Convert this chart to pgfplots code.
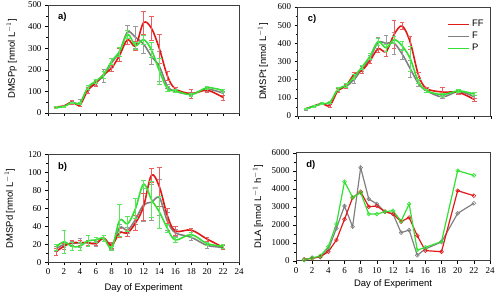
\documentclass[border=0pt]{standalone}
\usepackage{pgfplots}
\pgfplotsset{compat=1.18}
\usepackage{pgfplotstable}
\usepackage{fontspec}
\setmainfont{Liberation Serif}
\setsansfont{Liberation Sans}

\definecolor{ffred}{RGB}{225,25,25}
\definecolor{fgray}{RGB}{128,128,128}
\definecolor{pgreen}{RGB}{50,225,50}

% day  mean  sd
\pgfplotstableread{
d v e
1 28 3
2 33 4
3 50 8
4 37 8
5 105 12
6 138 12
7 178 15
8 208 15
9 268 30
10 340 20
11 310 20
12 418 52
13 392 55
14 297 67
15 172 19
16 112 8
18 90 22
20 105 10
22 72 12
}\apFF
\pgfplotstableread{
d v e
1 27 3
2 31 4
3 48 5
4 47 15
5 112 8
6 142 12
7 172 30
8 232 20
9 285 20
10 375 30
11 350 50
12 320 45
13 262 35
14 215 70
15 125 10
16 100 6
18 88 8
20 110 8
22 92 10
}\apF
\pgfplotstableread{
d v e
1 27 3
2 30 3
3 48 4
4 45 6
5 118 10
6 148 10
7 178 15
8 240 15
9 285 20
10 365 20
11 312 15
12 340 20
13 292 35
14 195 60
15 112 10
16 103 6
18 85 8
20 117 8
22 104 8
}\apP

\pgfplotstableread{
d v e
1 12 4
2 18 3
3 22 3
4 22 3
5 22 3
6 21 2
7 27 3
8 19 3
9 33 5
10 33 4
11 44 8
12 62 15
13 97 8
14 84 22
15 52 8
16 35 5
18 36 2
20 26 2
22 17 2
}\bpFF
\pgfplotstableread{
d v e
1 15 3
2 20 3
3 21 3
4 22 5
5 22 3
6 21 3
7 27 3
8 18 3
9 39 4
10 36 3
11 48 5
12 64 18
13 67 20
14 72 20
15 46 10
16 33 4
18 28 3
20 19 3
22 17 2
}\bpF
\pgfplotstableread{
d v e
1 17 3
2 23 13
3 18 4
4 18 4
5 24 6
6 25 3
7 27 3
8 16 2
9 47 18
10 43 8
11 60 11
12 87 4
13 70 20
14 56 18
15 38 4
16 25 3
18 31 3
20 21 2
22 18 2
}\bpP

\pgfplotstableread{
d v e
1 40 4
2 55 5
3 68 6
4 58 10
5 140 10
6 165 12
7 228 12
8 250 12
9 305 15
10 370 20
11 355 25
12 450 75
13 495 20
14 405 35
15 228 15
16 152 8
18 132 25
20 130 10
22 90 10
}\cpFF
\pgfplotstableread{
d v e
1 38 4
2 53 4
3 67 5
4 72 6
5 142 8
6 162 10
7 200 20
8 260 12
9 320 15
10 405 30
11 400 45
12 400 60
13 340 30
14 260 45
15 180 15
16 140 8
18 105 8
20 135 8
22 105 10
}\cpF
\pgfplotstableread{
d v e
1 40 4
2 53 4
3 68 5
4 75 6
5 148 8
6 168 10
7 215 15
8 270 12
9 330 15
10 410 20
11 375 20
12 420 20
13 385 25
14 315 70
15 190 12
16 140 8
18 118 8
20 138 8
22 120 8
}\cpP

\pgfplotstableread{
d v
1 75
2 130
3 220
4 500
5 1150
6 2300
7 3500
8 3830
9 3000
10 3040
11 2720
12 2600
13 2170
14 2400
15 1390
16 560
18 500
20 3890
22 3610
}\dpFF
\pgfplotstableread{
d v
1 30
2 170
3 200
4 620
5 1800
6 3040
7 1890
8 5170
9 3430
10 3150
11 2720
12 2600
13 1560
14 1700
15 300
16 650
18 1040
20 2630
22 3190
}\dpF
\pgfplotstableread{
d v
1 50
2 150
3 260
4 780
5 2040
6 4390
7 3520
8 3780
9 2590
10 2590
11 2720
12 2780
13 2200
14 3150
15 590
16 740
18 1060
20 5000
22 4740
}\dpP

\pgfplotsset{
  panel/.style={
    scale only axis, anchor=south west,
    xmin=0, xmax=24, xtick={0,2,...,24},
    tick align=outside, xtick pos=bottom, ytick pos=left,
    minor y tick num=1,
    major tick length=3bp, minor tick length=2bp,
    tick style={black, line width=0.4pt},
    axis line style={black!75, line width=0.5pt},
    tick label style={font=\fontsize{9}{10}\selectfont},
    /pgf/number format/assume math mode=true,
    /pgf/number format/1000 sep={},
    label style={font=\sffamily\fontsize{9.5}{11}\selectfont},
    clip=false,
  },
  toppanel/.style={panel, xticklabels={}},
  ebar/.style={
    /pgfplots/error bars/y dir=both,
    /pgfplots/error bars/y explicit,
    /pgfplots/error bars/error bar style={line width=0.5pt, #1},
    /pgfplots/error bars/error mark options={rotate=90, mark size=2.2bp, line width=0.5pt, #1}},
  sline/.style={smooth, tension=0.55, no marks, line width=1.6pt},
  dline/.style={mark=o, mark size=1.9bp, line width=1.2pt,
    mark options={fill=white, line width=0.6pt}},
  longline/.style={legend image code/.code={\draw (0bp,0bp) -- (21bp,0bp);}},
}

\newcommand{\plab}[1]{\node[anchor=west, font=\sffamily\bfseries\fontsize{9.5}{11}\selectfont]
  at (rel axis cs:0.035,0.885) {#1};}

\begin{document}
\begin{tikzpicture}
\useasboundingbox (0,0) rectangle (502bp,297bp);

% a) particulate DMSP
\begin{axis}[toppanel, at={(48bp,184bp)}, width=191bp, height=108bp,
  ymin=0, ymax=500, ytick={0,100,...,500},
  ylabel={DMSPp [nmol L$^{-1}$]},
  ylabel style={at={(axis description cs:-0.19,0.5)}, anchor=center}]
\addplot[sline, fgray, ebar=fgray!80] table[x=d, y=v, y error=e] {\apF};
\addplot[sline, ffred, ebar=ffred!70] table[x=d, y=v, y error=e] {\apFF};
\addplot[sline, pgreen, ebar=pgreen!80] table[x=d, y=v, y error=e] {\apP};
\plab{a)}
\end{axis}

% b) dissolved DMSP
\begin{axis}[panel, at={(48bp,34.5bp)}, width=191bp, height=108bp,
  ymin=0, ymax=120, ytick={0,20,...,120},
  ylabel={DMSPd [nmol L$^{-1}$]}, xlabel={Day of Experiment},
  ylabel style={at={(axis description cs:-0.2,0.5)}, anchor=center},
  xlabel style={at={(axis description cs:0.5,-0.235)}, anchor=center}]
\addplot[sline, fgray, ebar=fgray!80] table[x=d, y=v, y error=e] {\bpF};
\addplot[sline, ffred, ebar=ffred!70] table[x=d, y=v, y error=e] {\bpFF};
\addplot[sline, pgreen, ebar=pgreen!80] table[x=d, y=v, y error=e] {\bpP};
\plab{b)}
\end{axis}

% c) total DMSP
\begin{axis}[toppanel, at={(297.7bp,181bp)}, width=193bp, height=109bp,
  ymin=0, ymax=600, ytick={0,100,...,600},
  ylabel={DMSPt [nmol L$^{-1}$]},
  ylabel style={at={(axis description cs:-0.18,0.5)}, anchor=center},
  legend style={at={(rel axis cs:0.76,0.915)}, anchor=north west, draw=none, fill=none,
    font=\sffamily\fontsize{9.5}{11}\selectfont},
  legend cell align=left]
\addplot[forget plot, sline, fgray, ebar=fgray!80] table[x=d, y=v, y error=e] {\cpF};
\addplot[forget plot, sline, ffred, ebar=ffred!70] table[x=d, y=v, y error=e] {\cpFF};
\addplot[forget plot, sline, pgreen, ebar=pgreen!80] table[x=d, y=v, y error=e] {\cpP};
\addlegendimage{ffred, line width=1.6pt, longline}
\addlegendentry{FF}
\addlegendimage{fgray, line width=1.6pt, longline}
\addlegendentry{F}
\addlegendimage{pgreen, line width=1.6pt, longline}
\addlegendentry{P}
\plab{c)}
\end{axis}

% d) DMSP lyase activity
\begin{axis}[panel, at={(296bp,36.3bp)}, width=194bp, height=108bp,
  ymin=0, ymax=6000, ytick={0,1000,...,6000},
  ylabel={DLA [nmol L$^{-1}$ h$^{-1}$]}, xlabel={Day of Experiment},
  ylabel style={at={(axis description cs:-0.196,0.5)}, anchor=center},
  xlabel style={at={(axis description cs:0.5,-0.22)}, anchor=center}]
\addplot[dline, fgray] table[x=d, y=v] {\dpF};
\addplot[dline, ffred] table[x=d, y=v] {\dpFF};
\addplot[dline, pgreen] table[x=d, y=v] {\dpP};
\plab{d)}
\end{axis}
\end{tikzpicture}
\end{document}
